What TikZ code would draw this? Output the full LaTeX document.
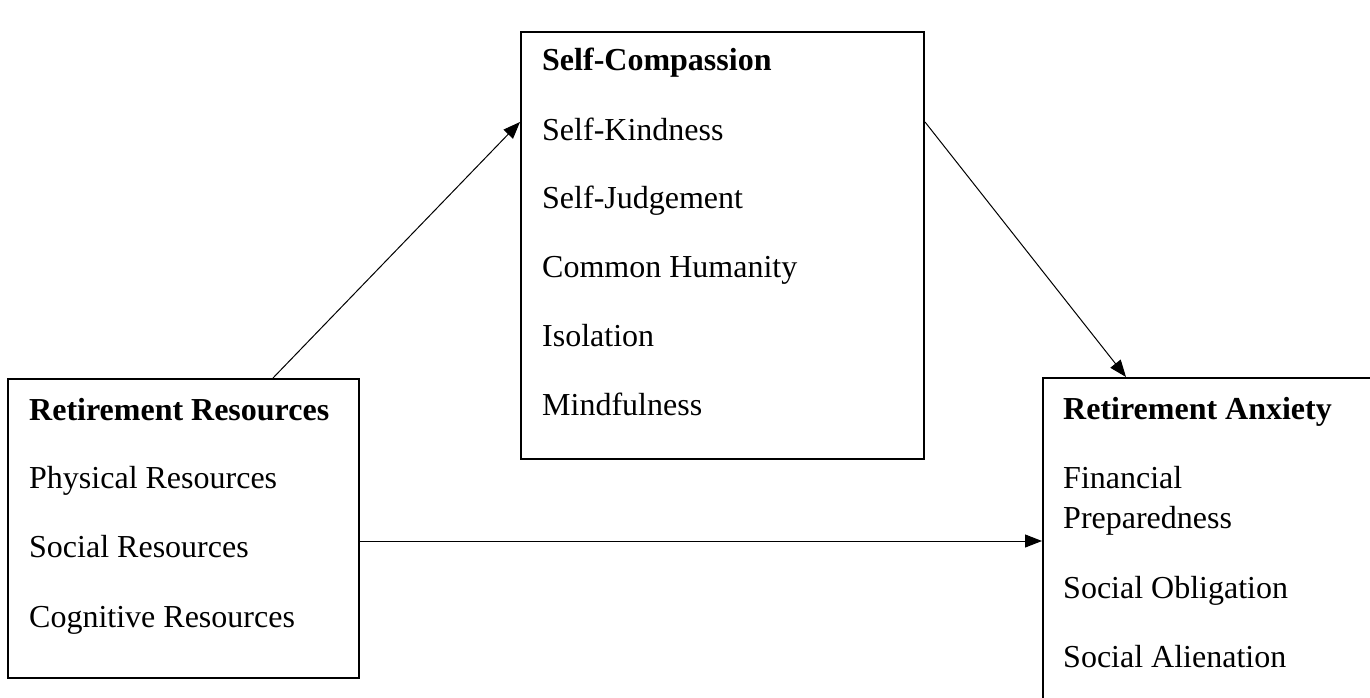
\documentclass[tikz,border=0pt]{standalone}
\usepackage{fontspec}
\setmainfont{Liberation Serif}
\usetikzlibrary{arrows.meta}
\begin{document}
\begin{tikzpicture}[x=1pt,y=-1pt,
  box/.style={draw=black,line width=2pt,rectangle,inner sep=0pt,anchor=north west},
  txt/.style={anchor=base west,inner sep=0pt,font=\fontsize{32}{40}\selectfont},
  head/.style={txt,font=\fontsize{32}{40}\selectfont\bfseries},
  link/.style={line width=1pt,-{Triangle[length=17pt,width=13pt]}}]
\clip (0,0) rectangle (1370,698);
\fill[white] (0,0) rectangle (1370,698);
% boxes
\node[box,minimum width=351pt,minimum height=299pt] (rr) at (7,378) {};
\node[box,minimum width=403pt,minimum height=427pt] (sc) at (520,31) {};
\node[box,minimum width=360pt,minimum height=360pt] (ra) at (1042,377) {};
% left box text
\node[head] (rrh) at (29,420) {Retirement Resources};
\node[txt] (rr1) at (29,488) {Physical Resources};
\node[txt] (rr2) at (29,557) {Social Resources};
\node[txt] (rr3) at (29,627) {Cognitive Resources};
% middle box text
\node[head] (sch) at (542,71) {Self-Compassion};
\node[txt] (sc1) at (542,140) {Self-Kindness};
\node[txt] (sc2) at (542,208) {Self-Judgement};
\node[txt] (sc3) at (542,277) {Common Humanity};
\node[txt] (sc4) at (542,346) {Isolation};
\node[txt] (sc5) at (542,415) {Mindfulness};
% right box text
\node[head] (rah) at (1063,419) {Retirement Anxiety};
\node[txt] (ra1) at (1063,488) {Financial};
\node[txt] (ra2) at (1063,528) {Preparedness};
\node[txt] (ra3) at (1063,598) {Social Obligation};
\node[txt] (ra4) at (1063,667) {Social Alienation};
% connectors
\draw[link] ([xshift=266pt]rr.north west) -- ([yshift=-91pt]sc.north west);
\draw[link] ([yshift=-91pt]sc.north east) -- ([xshift=84pt]ra.north west);
\draw[link] ([yshift=-163pt]rr.north east) -- ([yshift=-164pt]ra.north west);
\end{tikzpicture}
\end{document}
